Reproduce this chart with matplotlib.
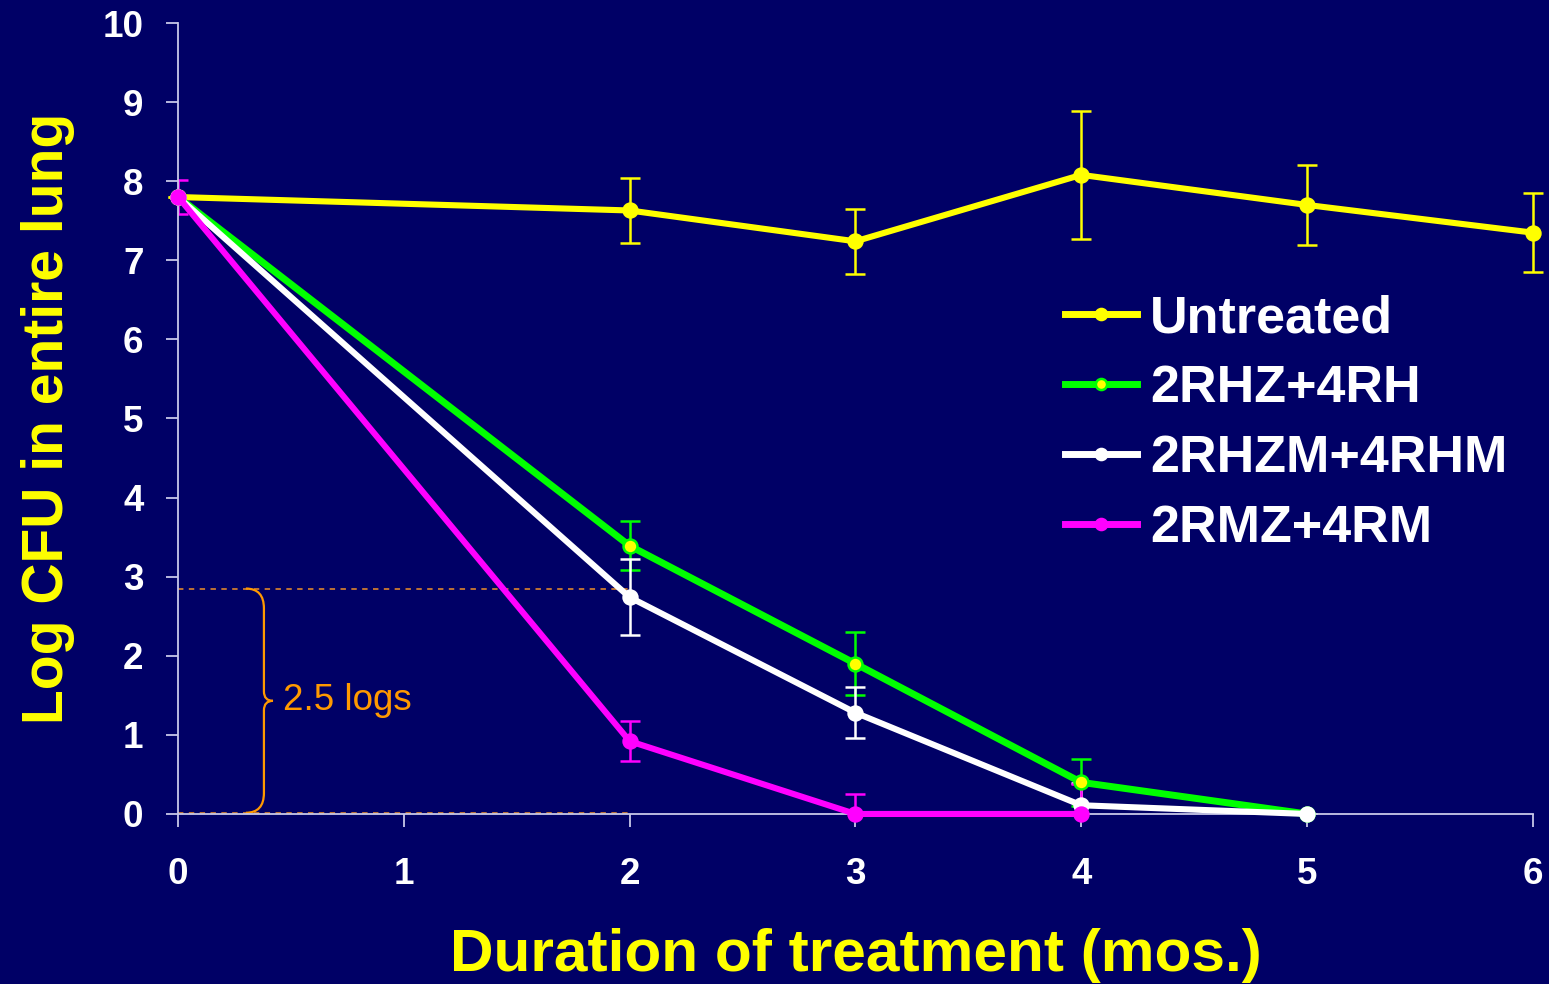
import numpy as np
import matplotlib.pyplot as plt
from matplotlib.path import Path
from matplotlib.patches import PathPatch

plt.rcParams['font.family'] = ['Liberation Sans', 'DejaVu Sans']

# data (months, log CFU)
months_untreated = [0, 2, 3, 4, 5, 6]
cfu_untreated = [7.8, 7.63, 7.24, 8.08, 7.70, 7.35]
err_untreated = [0.0, 0.41, 0.41, 0.81, 0.51, 0.50]

months_rhz = [0, 2, 3, 4, 5]
cfu_rhz = [7.8, 3.39, 1.90, 0.40, 0.0]
err_rhz = [0.0, 0.31, 0.40, 0.30, 0.0]

months_rhzm = [0, 2, 3, 4, 5]
cfu_rhzm = [7.8, 2.74, 1.28, 0.11, 0.0]
err_rhzm = [0.0, 0.48, 0.32, 0.28, 0.0]

months_rmz = [0, 2, 3, 4]
cfu_rmz = [7.8, 0.92, 0.0, 0.0]
err_rmz = [0.21, 0.25, 0.25, 0.38]

labels = ['Untreated', '2RHZ+4RH', '2RHZM+4RHM', '2RMZ+4RM']

bg = '#000066'
spine_col = '#c8c8e8'


def main():
    fig = plt.figure(figsize=(15.49, 9.84), dpi=100, facecolor=bg)
    ax = fig.add_axes([0.115, 0.1728, 0.8745, 0.8038])
    ax.set_facecolor(bg)

    series = [
        (months_untreated, cfu_untreated, err_untreated, '#ffff00', '#ffff00', '#ffff00', 4.4),
        (months_rhz, cfu_rhz, err_rhz, '#00ff00', '#ffff00', '#00ff00', 5.0),
        (months_rhzm, cfu_rhzm, err_rhzm, '#ffffff', '#ffffff', '#ffffff', 4.4),
        (months_rmz, cfu_rmz, err_rmz, '#ff00ff', '#ff00ff', '#ff00ff', 4.4),
    ]
    handles = []
    for i, ((x, y, e, col, face, edge, lw), lab) in enumerate(zip(series, labels)):
        eb = ax.errorbar(x, y, yerr=e, fmt='none', ecolor=col, elinewidth=1.8,
                         capsize=7, capthick=1.8, zorder=2)
        if i == 0:
            # untreated bars reach the right edge of the axes
            for art in eb.lines[1] + eb.lines[2]:
                art.set_clip_on(False)
        h, = ax.plot(x, y, color=col, lw=lw, marker='o', ms=10,
                     mfc=face, mec=edge, mew=1.8, label=lab, zorder=3, clip_on=False)
        handles.append(h)

    # 2.5 logs bracket
    ax.plot([0, 2], [2.85, 2.85], ls=(0, (3, 3)), color='#cc7a30', lw=1.3, zorder=1)
    ax.plot([0, 2], [0.015, 0.015], ls=(0, (3, 3)), color='#cc7a30', lw=1.3, zorder=1)
    xt, xv, xm = 0.30, 0.38, 0.42
    yt, yb, ym = 2.85, 0.015, 1.43
    verts = [(xt, yt), (xv, yt), (xv, yt - 0.25), (xv, ym + 0.12),
             (xv, ym), (xm, ym),
             (xv, ym), (xv, ym - 0.12),
             (xv, yb + 0.25), (xv, yb), (xt, yb)]
    codes = [Path.MOVETO, Path.CURVE3, Path.CURVE3, Path.LINETO,
             Path.CURVE3, Path.CURVE3,
             Path.CURVE3, Path.CURVE3,
             Path.LINETO, Path.CURVE3, Path.CURVE3]
    ax.add_patch(PathPatch(Path(verts, codes), fill=False, ec='#ff9900', lw=1.6))
    ax.text(0.465, ym, '2.5 logs', color='#ff9900', fontsize=26.5, va='center', ha='left')

    ax.set_xlim(0, 6)
    ax.set_ylim(0, 10)
    ax.set_xticks(range(0, 7))
    ax.set_yticks(range(0, 11))
    for s in ['top', 'right']:
        ax.spines[s].set_visible(False)
    for s in ['left', 'bottom']:
        ax.spines[s].set_color(spine_col)
        ax.spines[s].set_linewidth(1.3)
    ax.tick_params(axis='both', colors=spine_col, direction='out', length=9, width=1.3,
                   labelcolor='white', labelsize=26.5)
    ax.tick_params(axis='x', pad=22)
    ax.tick_params(axis='y', pad=16)
    for t in ax.get_xticklabels() + ax.get_yticklabels():
        t.set_fontweight('bold')

    ax.set_xlabel('Duration of treatment (mos.)', color='#ffff00', fontsize=43.5,
                  fontweight='bold', labelpad=26)
    ax.set_ylabel('Log CFU in entire lung', color='#ffff00', fontsize=41,
                  fontweight='bold', labelpad=20)

    leg = ax.legend(handles=handles, loc='upper left', bbox_to_anchor=(0.655, 0.657),
                    frameon=False, fontsize=37.5, handlelength=1.38, handletextpad=0.25,
                    labelspacing=0.4, borderaxespad=0, borderpad=0)
    for t in leg.get_texts():
        t.set_color('white')
        t.set_fontweight('bold')
    for lh in leg.get_lines():
        lh.set_markersize(8)
        lh.set_linewidth(5)

    fig.savefig('out.png', dpi=100, facecolor=bg)


if __name__ == '__main__':
    main()
